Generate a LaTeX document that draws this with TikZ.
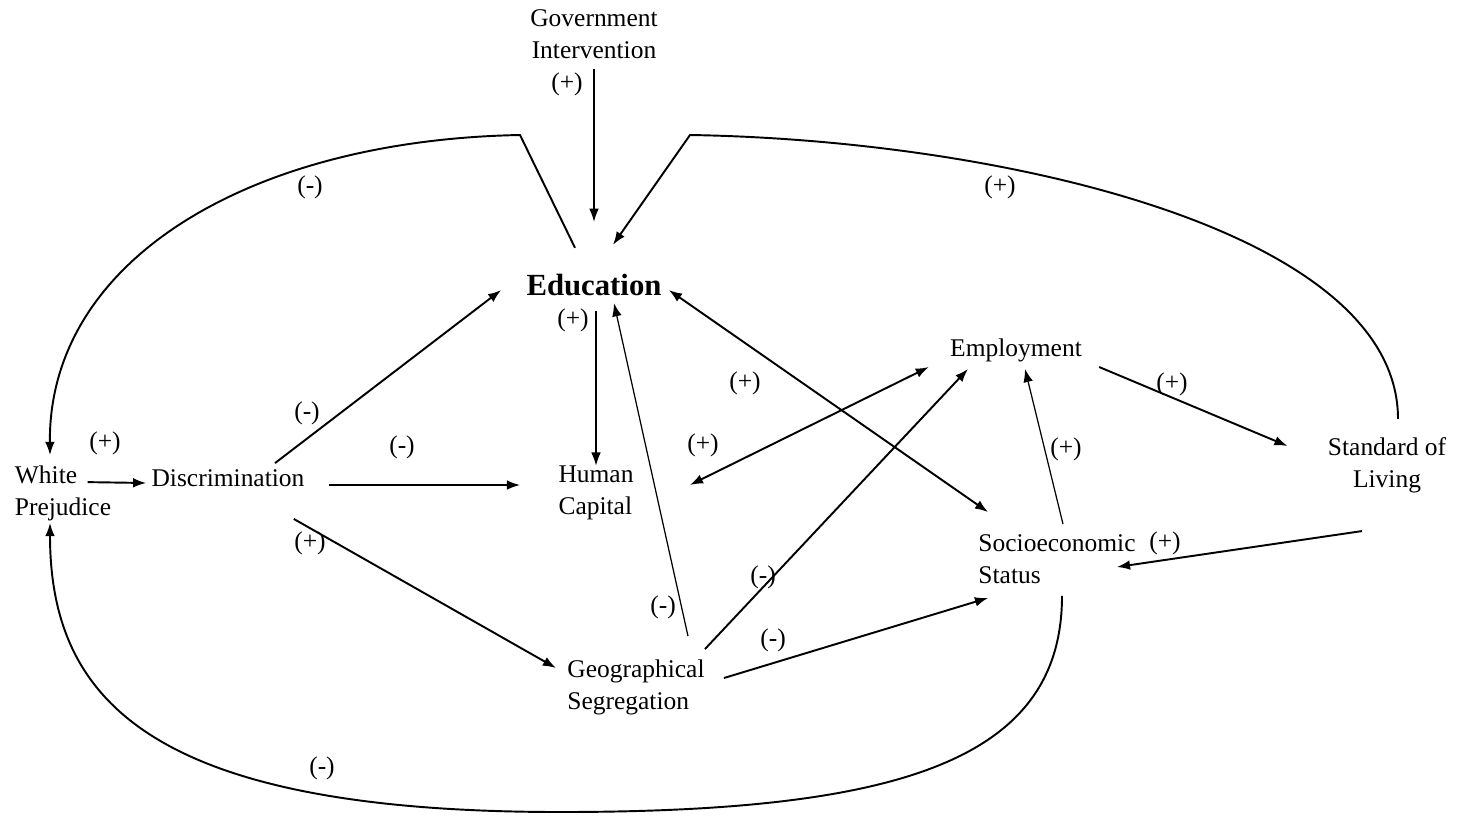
\documentclass[tikz,border=0pt]{standalone}
\usepackage{fontspec}
\setmainfont{Liberation Serif}
\usepackage{tikz}
\usetikzlibrary{arrows.meta, calc}

\begin{document}
\begin{tikzpicture}[
    x=0.02cm, y=-0.02cm,
    factor/.style={inner sep=0pt, align=left, font=\fontsize{14.5}{18.2}\selectfont},
    arrow/.style={-{Latex[length=7.5pt, width=5.5pt]}, line width=1.1pt},
    twoway/.style={{Latex[length=7.5pt, width=5.5pt]}-{Latex[length=7.5pt, width=5.5pt]}, line width=1.1pt},
    thinarrow/.style={arrow, line width=0.7pt},
    sign/.style={inner sep=0pt, font=\fontsize{14.5}{18.2}\selectfont}
]
\useasboundingbox (0,0) rectangle (1460,816);

\node[factor, align=center] (gov) at (594,34) {Government\\Intervention};
\node[factor, font=\fontsize{17.5}{21}\selectfont\bfseries] (edu) at (594,285) {Education};
\node[factor] (white) at (63,493) {White\\Prejudice};
\node[factor] (disc) at (228,478) {Discrimination};
\node[factor] (hc) at (596,493) {Human\\Capital};
\node[factor] (geo) at (636,687) {Geographical\\Segregation};
\node[factor] (emp) at (1016,350) {Employment};
\node[factor, align=center] (sol) at (1387,465) {Standard of\\Living};
\node[factor] (ses) at (1057,559) {Socioeconomic\\Status};

\coordinate (lt) at (520,135);
\coordinate (rt) at (690,135);
\coordinate (bot) at (560,812);

\draw[thinarrow] ($(gov.south)+(0,10)$) -- ($(edu.north)+(0,-52)$);
\draw[arrow] ($(edu.north)+(-19,-26)$) -- (lt) .. controls (250,140) and (48,260) .. ($(white.north)+(-13,-10)$);
\draw[arrow] ($(sol.north)+(11,-18)$) .. controls (1398,230) and (1000,140) .. (rt) -- ($(edu.north)+(19,-29)$);
\draw[arrow] ($(ses.south)+(5,12)$) .. controls (1062,760) and (900,812) .. (bot) .. controls (150,812) and (50,700) .. ($(white.south)+(-13,2)$);
\draw[arrow] ($(white.north west)+(73,17)$) -- ($(disc.west)+(-5,5)$);
\draw[arrow] ($(disc.north)+(47,-6)$) -- ($(edu.west)+(-25,5)$);
\draw[arrow] ($(disc.east)+(24,7)$) -- ($(hc.west)+(-38,-8)$);
\draw[arrow] ($(disc.south east)+(-11,32)$) -- ($(geo.west)+(-11,-19)$);
\draw[thinarrow] ($(edu.south)+(2,15)$) -- (hc.north);
\draw[thinarrow] ($(geo.north)+(52,-23)$) -- ($(edu.south)+(20,7)$);
\draw[twoway] ($(hc.east)+(56,-8)$) -- ($(emp.west)+(-21,17)$);
\draw[twoway] ($(edu.east)+(7,5)$) -- ($(ses.north west)+(10,-22)$);
\draw[arrow] ($(geo.north east)+(0,-10)$) -- ($(emp.south)+(-48,7)$);
\draw[arrow] ($(geo.east)+(19,-9)$) -- ($(ses.south west)+(10,14)$);
\draw[thinarrow] ($(ses.north)+(6,-10)$) -- ($(emp.south)+(9,7)$);
\draw[arrow] ($(emp.east)+(17,17)$) -- ($(sol.west)+(-40,-19)$);
\draw[arrow] ($(sol.south)+(-25,38)$) -- ($(ses.east)+(-19,8)$);

\node[sign] (s-gov) at (567,84) {(+)};
\node[sign] (s-left) at (310,187) {(-)};
\node[sign] (s-right) at (1000,187) {(+)};
\node[sign] (s-white) at (105,443) {(+)};
\node[sign] (s-discedu) at (307,413) {(-)};
\node[sign] (s-dischc) at (402,447) {(-)};
\node[sign] (s-discgeo) at (310,543) {(+)};
\node[sign] (s-eduhc) at (573,320) {(+)};
\node[sign] (s-geoedu) at (663,607) {(-)};
\node[sign] (s-hcemp) at (703,445) {(+)};
\node[sign] (s-eduses) at (745,383) {(+)};
\node[sign] (s-geoemp) at (763,577) {(-)};
\node[sign] (s-geoses) at (773,640) {(-)};
\node[sign] (s-sesemp) at (1066,449) {(+)};
\node[sign] (s-empsol) at (1172,384) {(+)};
\node[sign] (s-solses) at (1165,543) {(+)};
\node[sign] (s-bottom) at (322,768) {(-)};

\end{tikzpicture}
\end{document}
